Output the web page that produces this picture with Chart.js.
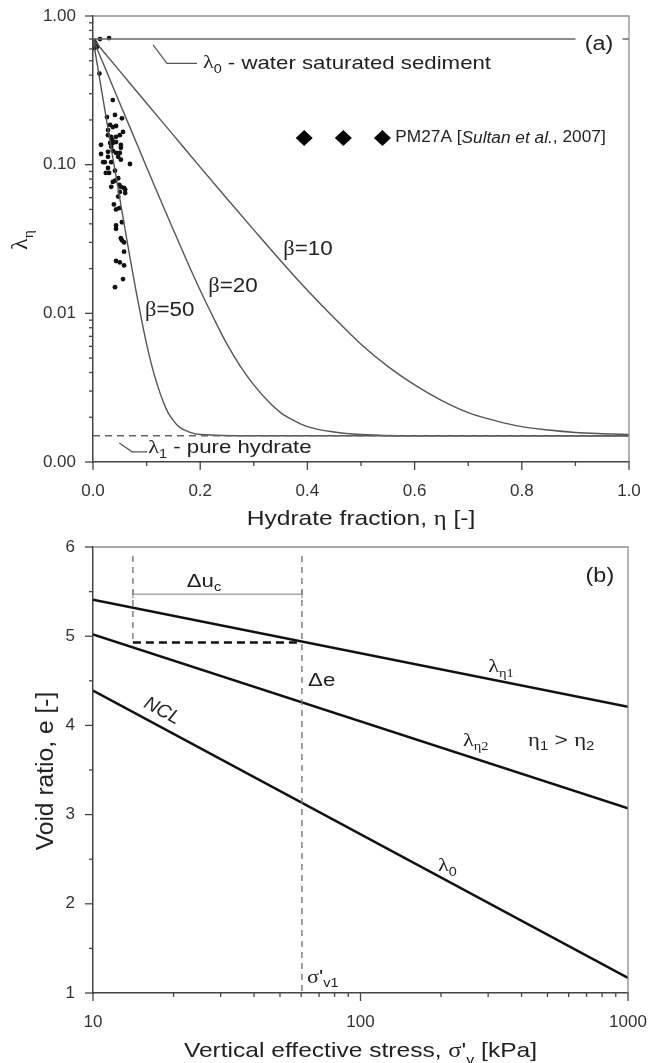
<!DOCTYPE html>
<html>
<head>
<meta charset="utf-8">
<script src="https://cdn.jsdelivr.net/npm/chart.js@4.4.1/dist/chart.umd.min.js"></script>
<style>
    html, body {margin: 0; padding: 0; background: #fff;}
    #wrap {position: relative; width: 649px; height: 1063px;}
    canvas {position: absolute; left: 0;}
    #ca {top: 0;}
    #cb {top: 530px;}
</style>
</head>
<body>
<div id="wrap">
    <canvas id="ca" width="649" height="530" style="width:649px;height:530px"></canvas>
    <canvas id="cb" width="649" height="533" style="width:649px;height:533px"></canvas>
</div>
<script>
const SANS  = '"Liberation Sans", Arial, Helvetica, sans-serif';
const SERIF = '"Liberation Serif", "DejaVu Serif", serif';
const INK   = '#222';
const AXIS  = '#444';
const FRAME = '#8c8c8c';
const WIDE  = 1.17;   // the figure's lettering is a bit wider than the font

// ---- (a) compression index vs hydrate fraction ----
const etaTicks  = [0, 0.1, 0.2, 0.3, 0.4, 0.5, 0.6, 0.7, 0.8, 0.9, 1];
const etaLabels = ['0.0', '', '0.2', '', '0.4', '', '0.6', '', '0.8', '', '1.0'];
const lamTicks  = [0.001, 0.002, 0.003, 0.004, 0.005, 0.006, 0.007, 0.008, 0.009,
                   0.01, 0.02, 0.03, 0.04, 0.05, 0.06, 0.07, 0.08, 0.09,
                   0.1, 0.2, 0.3, 0.4, 0.5, 0.6, 0.7, 0.8, 0.9, 1];
const lamLabels = ['0.00', '', '', '', '', '', '', '', '',
                   '0.01', '', '', '', '', '', '', '', '',
                   '0.10', '', '', '', '', '', '', '', '', '1.00'];

const lambda0 = 0.7;     // water saturated sediment
const lambda1 = 0.0015;  // pure hydrate

const eta10 = [0, 0.05, 0.1, 0.15, 0.2, 0.25, 0.3, 0.35, 0.4, 0.45, 0.5, 0.55, 0.6, 0.65, 0.7, 0.75, 0.8, 0.85, 0.9, 0.95, 1.0];
const lam10 = [0.70, 0.426, 0.259, 0.158, 0.0962, 0.059, 0.0364, 0.0226, 0.0143, 0.0093, 0.0062, 0.0044, 0.0033, 0.0026, 0.00215, 0.0019, 0.00173, 0.00164, 0.00158, 0.00155, 0.00153];

const eta20 = [0, 0.025, 0.05, 0.075, 0.1, 0.125, 0.15, 0.175, 0.2, 0.225, 0.25, 0.275, 0.3, 0.325, 0.35, 0.375, 0.4, 0.45, 0.5, 0.6, 1.0];
const lam20 = [0.70, 0.426, 0.259, 0.158, 0.0962, 0.059, 0.0364, 0.0226, 0.0143, 0.0093, 0.0062, 0.0044, 0.0033, 0.0026, 0.00215, 0.0019, 0.00173, 0.00159, 0.00153, 0.0015, 0.0015];

const eta50 = [0, 0.01, 0.02, 0.03, 0.04, 0.05, 0.06, 0.07, 0.08, 0.09, 0.10, 0.11, 0.12, 0.13, 0.14, 0.15, 0.16, 0.18, 0.20, 0.30, 1.0];
const lam50 = [0.70, 0.426, 0.259, 0.158, 0.0962, 0.059, 0.0364, 0.0226, 0.0143, 0.0093, 0.0062, 0.0044, 0.0033, 0.0026, 0.00215, 0.0019, 0.00173, 0.00159, 0.00153, 0.0015, 0.0015];

const sampleEta = [0.002, 0.004, 0.006, 0.008, 0.003, 0.013, 0.030, 0.012,
                   0.037, 0.026, 0.041, 0.054, 0.032, 0.037, 0.043, 0.028, 0.056,
                   0.028, 0.034, 0.043, 0.050, 0.036, 0.043, 0.032, 0.037, 0.015, 0.052,
                   0.034, 0.052, 0.028, 0.037, 0.043, 0.015, 0.050, 0.028, 0.047,
                   0.019, 0.022, 0.034, 0.052, 0.069, 0.028, 0.024, 0.030, 0.041,
                   0.047, 0.041, 0.037, 0.034, 0.052, 0.060, 0.050, 0.049, 0.058, 0.060,
                   0.047, 0.039, 0.049, 0.043, 0.054, 0.043, 0.043, 0.052, 0.054, 0.058,
                   0.058, 0.043, 0.050, 0.058, 0.056, 0.041];
const sampleLam = [0.68, 0.66, 0.64, 0.62, 0.61, 0.70, 0.71, 0.41,
                   0.272, 0.209, 0.216, 0.205, 0.185, 0.179, 0.182, 0.171, 0.166,
                   0.158, 0.154, 0.154, 0.158, 0.147, 0.142, 0.140, 0.140, 0.136, 0.136,
                   0.132, 0.130, 0.122, 0.124, 0.120, 0.118, 0.120, 0.113, 0.113,
                   0.104, 0.104, 0.104, 0.108, 0.101, 0.095, 0.088, 0.088, 0.091,
                   0.081, 0.078, 0.0765, 0.071, 0.071, 0.068, 0.0655, 0.073, 0.0697, 0.0645,
                   0.061, 0.054, 0.051, 0.050, 0.041, 0.039, 0.037, 0.032, 0.031, 0.030,
                   0.026, 0.0225, 0.022, 0.021, 0.017, 0.015];

// ---- (b) void ratio vs vertical effective stress ----
const stressTicks  = [10, 20, 30, 40, 50, 60, 70, 80, 90, 100, 200, 300, 400, 500, 600, 700, 800, 900, 1000];
const stressLabels = ['10', '', '', '', '', '', '', '', '', '100', '', '', '', '', '', '', '', '', '1000'];
const voidTicks    = [1, 1.5, 2, 2.5, 3, 3.5, 4, 4.5, 5, 5.5, 6];
const voidLabels   = ['1', '', '2', '', '3', '', '4', '', '5', '', '6'];

const stress = [10, 1000];
const eEta1  = [5.41, 4.21];
const eEta2  = [5.02, 3.07];
const eNcl   = [4.39, 1.17];

const sigmaV1  = 60.4;   // σ'v1
const sigmaDu  = 14.1;   // start of Δuc
const eAtV1    = 4.93;
const duLevel  = 5.47;
const guideTop = 5.9;

const pts = (xs, ys) => xs.map((x, i) => ({x, y: ys[i]}));

// text pieces: plain, greek, subscript, greek subscript, italic
const T  = t => ({t});
const G  = t => ({t, g: true});
const S  = t => ({t, sub: true});
const SG = t => ({t, sub: true, g: true});
const I  = t => ({t, it: true});

function rich(ctx, parts, x, y, size, align = 'left', baseline = 'middle', sx = WIDE) {
    const runs = parts.map(p => {
        const fs   = p.sub ? size * 0.65 : size;
        const font = `${p.it ? 'italic ' : ''}${fs}px ${p.g ? SERIF : SANS}`;
        ctx.font = font;
        return {t: p.t, font, w: ctx.measureText(p.t).width, dy: p.sub ? size * 0.32 : 0};
    });
    const total = runs.reduce((s, r) => s + r.w, 0);
    let cx = align === 'center' ? -total / 2 : (align === 'right' ? -total : 0);
    ctx.save();
    ctx.translate(x, y);
    ctx.scale(sx, 1);
    ctx.textAlign    = 'left';
    ctx.textBaseline = baseline;
    runs.forEach(r => {ctx.font = r.font; ctx.fillText(r.t, cx, r.dy); cx += r.w;});
    ctx.restore();
}

// tick marks (long for labelled, short otherwise), top/right frame and axis titles
const frame = titles => ({
    id: 'frame',
    afterDraw(chart) {
        const {ctx, chartArea: a, scales: {x, y}} = chart;
        ctx.save();
        ctx.strokeStyle = AXIS;
        ctx.lineWidth   = 1.3;
        x.ticks.forEach(t => {
            const p = x.getPixelForValue(t.value);
            ctx.beginPath(); ctx.moveTo(p, a.bottom); ctx.lineTo(p, a.bottom + (t.label ? 8 : 4)); ctx.stroke();
        });
        y.ticks.forEach(t => {
            const p = y.getPixelForValue(t.value);
            ctx.beginPath(); ctx.moveTo(a.left, p); ctx.lineTo(a.left - (t.label ? 8 : 4), p); ctx.stroke();
        });
        ctx.strokeStyle = FRAME;
        ctx.beginPath(); ctx.moveTo(a.left, a.top); ctx.lineTo(a.right, a.top); ctx.lineTo(a.right, a.bottom); ctx.stroke();

        ctx.fillStyle = INK;
        rich(ctx, titles.x, (a.left + a.right) / 2, titles.xBase, 21, 'center', 'alphabetic');
        ctx.translate(titles.yCenter, (a.top + a.bottom) / 2 + titles.yShift);
        ctx.rotate(-Math.PI / 2);
        rich(ctx, titles.y, 0, 0, titles.ySize, 'center', 'middle', titles.ySx);
        ctx.restore();
    }
});

// labels, leader lines and legend placed in data coordinates
const notes = (labels, leaders, legend) => ({
    id: 'notes',
    afterDatasetsDraw(chart) {
        const {ctx, scales: {x, y}} = chart;
        const px = (a, b) => [x.getPixelForValue(a), y.getPixelForValue(b)];
        ctx.save();
        ctx.strokeStyle = '#555';
        ctx.lineWidth   = 1.2;
        leaders.forEach(l => {
            ctx.beginPath();
            l.forEach(([a, b], i) => {const [p, q] = px(a, b); i ? ctx.lineTo(p, q) : ctx.moveTo(p, q);});
            ctx.stroke();
        });
        labels.forEach(n => {
            const [p, q] = px(n.x, n.y);
            ctx.save();
            ctx.translate(p, q);
            if (n.rot) ctx.rotate(n.rot * Math.PI / 180);
            if (n.box) {ctx.fillStyle = '#fff'; ctx.fillRect(-n.box / 2, -12, n.box, 24);}
            ctx.fillStyle = INK;
            rich(ctx, n.parts, 0, 0, n.size, n.align || 'left', 'middle', n.sx || WIDE);
            ctx.restore();
        });
        if (legend) {
            ctx.fillStyle = '#000';
            legend.marks.forEach(m => {
                const [p, q] = px(m, legend.y);
                ctx.beginPath();
                ctx.moveTo(p, q - 8); ctx.lineTo(p + 8.5, q); ctx.lineTo(p, q + 8); ctx.lineTo(p - 8.5, q);
                ctx.closePath(); ctx.fill();
            });
            const [p, q] = px(legend.textX, legend.y);
            ctx.fillStyle = INK;
            rich(ctx, legend.parts, p, q, 16, 'left', 'middle', 1.08);
        }
        ctx.restore();
    }
});

function axis(type, ticks, labels, size, pad) {
    return {
        type, min: ticks[0], max: ticks[ticks.length - 1],
        // fixed axis size, and no extra room for labels that overhang the plot edges
        afterFit: s => {
            if (s.isHorizontal()) s.height = size; else s.width = size;
            s.paddingLeft = s.paddingRight = s.paddingTop = s.paddingBottom = 0;
        },
        afterBuildTicks: s => {s.ticks = ticks.map(v => ({value: v}));},
        ticks: {autoSkip: false, maxRotation: 0, minRotation: 0, padding: pad, color: '#333',
                font: {family: SANS, size: 17}, callback: (v, i) => labels[i]},
        grid: {display: false, drawTicks: false},
        border: {color: AXIS, width: 1.5}
    };
}

const base = (pad, scales) => ({
    responsive: false, animation: false, devicePixelRatio: 1, events: [],
    layout: {padding: pad},
    plugins: {legend: {display: false}, tooltip: {enabled: false}},
    scales
});

const line = (data, color, width, extra) => Object.assign({data, borderColor: color, borderWidth: width,
    showLine: true, pointRadius: 0, fill: false}, extra || {});

new Chart(document.getElementById('ca'), {
    type: 'scatter',
    data: {datasets: [
        line(pts([0, 1], [lambda0, lambda0]), '#666', 1.5),
        line(pts([0, 1], [lambda1, lambda1]), '#666', 1.5, {borderDash: [7, 5]}),
        line(pts(eta10, lam10), '#555', 1.4, {cubicInterpolationMode: 'monotone'}),
        line(pts(eta20, lam20), '#555', 1.4, {cubicInterpolationMode: 'monotone'}),
        line(pts(eta50, lam50), '#555', 1.4, {cubicInterpolationMode: 'monotone'}),
        {data: pts(sampleEta, sampleLam), pointRadius: 2.4, pointBackgroundColor: '#111', pointBorderWidth: 0}
    ]},
    options: base({top: 16, right: 20, left: 0, bottom: 0}, {
        x: axis('linear', etaTicks, etaLabels, 68, 19),
        y: axis('logarithmic', lamTicks, lamLabels, 93, 17)
    }),
    plugins: [
        frame({x: [T('Hydrate fraction, '), G('η'), T(' [-]')], xBase: 525,
               y: [G('λ'), SG('η')], ySize: 24, ySx: 1, yCenter: 21, yShift: 1}),
        notes([
            {x: 0.205, y: 0.48,    parts: [G('λ'), S('0'), T(' - water saturated sediment')], size: 19},
            {x: 0.103, y: 0.00124, parts: [G('λ'), S('1'), T(' - pure hydrate')], size: 19},
            {x: 0.944, y: 0.64,    parts: [T('(a)')], size: 20, align: 'center', box: 47},
            {x: 0.355, y: 0.0267,  parts: [G('β'), T('=10')], size: 20, sx: 1.12},
            {x: 0.215, y: 0.0151,  parts: [G('β'), T('=20')], size: 20, sx: 1.12},
            {x: 0.097, y: 0.0104,  parts: [G('β'), T('=50')], size: 20, sx: 1.12}
        ], [
            [[0.112, 0.64], [0.138, 0.48], [0.194, 0.48]],
            [[0.049, 0.00134], [0.073, 0.00117], [0.101, 0.00117]]
        ], {
            marks: [0.394, 0.467, 0.540], y: 0.151, textX: 0.564,
            parts: [T('PM27A ['), I('Sultan et al.'), T(', 2007]')]
        })
    ]
});

new Chart(document.getElementById('cb'), {
    type: 'scatter',
    data: {datasets: [
        line(pts([sigmaV1, sigmaV1], [guideTop, 1]), '#777', 1.4, {borderDash: [6, 5]}),
        line(pts([sigmaDu, sigmaDu], [guideTop, eAtV1]), '#777', 1.4, {borderDash: [6, 5]}),
        line(pts([sigmaDu, sigmaV1], [duLevel, duLevel]), '#aaa', 1.5,
             {pointRadius: 4, pointStyle: 'line', rotation: 90, pointBorderColor: '#aaa', pointBorderWidth: 1.5}),
        line(pts([sigmaDu, sigmaV1], [eAtV1, eAtV1]), '#111', 2.5, {borderDash: [8, 5]}),
        line(pts(stress, eEta1), '#111', 2.5),
        line(pts(stress, eEta2), '#111', 2.5),
        line(pts(stress, eNcl), '#111', 2.5)
    ]},
    options: base({top: 17, right: 21, left: 0, bottom: 0}, {
        x: axis('logarithmic', stressTicks, stressLabels, 70, 19),
        y: axis('linear', voidTicks, voidLabels, 93, 18)
    }),
    plugins: [
        frame({x: [T('Vertical effective stress, '), G('σ'), T("'"), S('v'), T(' [kPa]')], xBase: 527,
               y: [T('Void ratio, e [-]')], ySize: 23, ySx: 1.07, yCenter: 47, yShift: 1}),
        notes([
            {x: 785,  y: 5.675, parts: [T('(b)')], size: 20, align: 'center'},
            {x: 22.4, y: 5.61,  parts: [T('Δu'), S('c')], size: 19},
            {x: 63.7, y: 4.50,  parts: [T('Δe')], size: 19},
            {x: 300,  y: 4.65,  parts: [G('λ'), SG('η1')], size: 19},
            {x: 241.5, y: 3.825, parts: [G('λ'), SG('η2')], size: 19},
            {x: 423,  y: 3.825, parts: [G('η'), S('1'), T(' > '), G('η'), S('2')], size: 19, sx: 1.2},
            {x: 18.1, y: 4.16,  parts: [I('NCL')], size: 19, align: 'center', rot: 28, sx: 1},
            {x: 195,  y: 2.42,  parts: [G('λ'), S('0')], size: 19},
            {x: 63.1, y: 1.17,  parts: [G('σ'), T("'"), S('v1')], size: 19}
        ], [])
    ]
});
</script>
</body>
</html>
